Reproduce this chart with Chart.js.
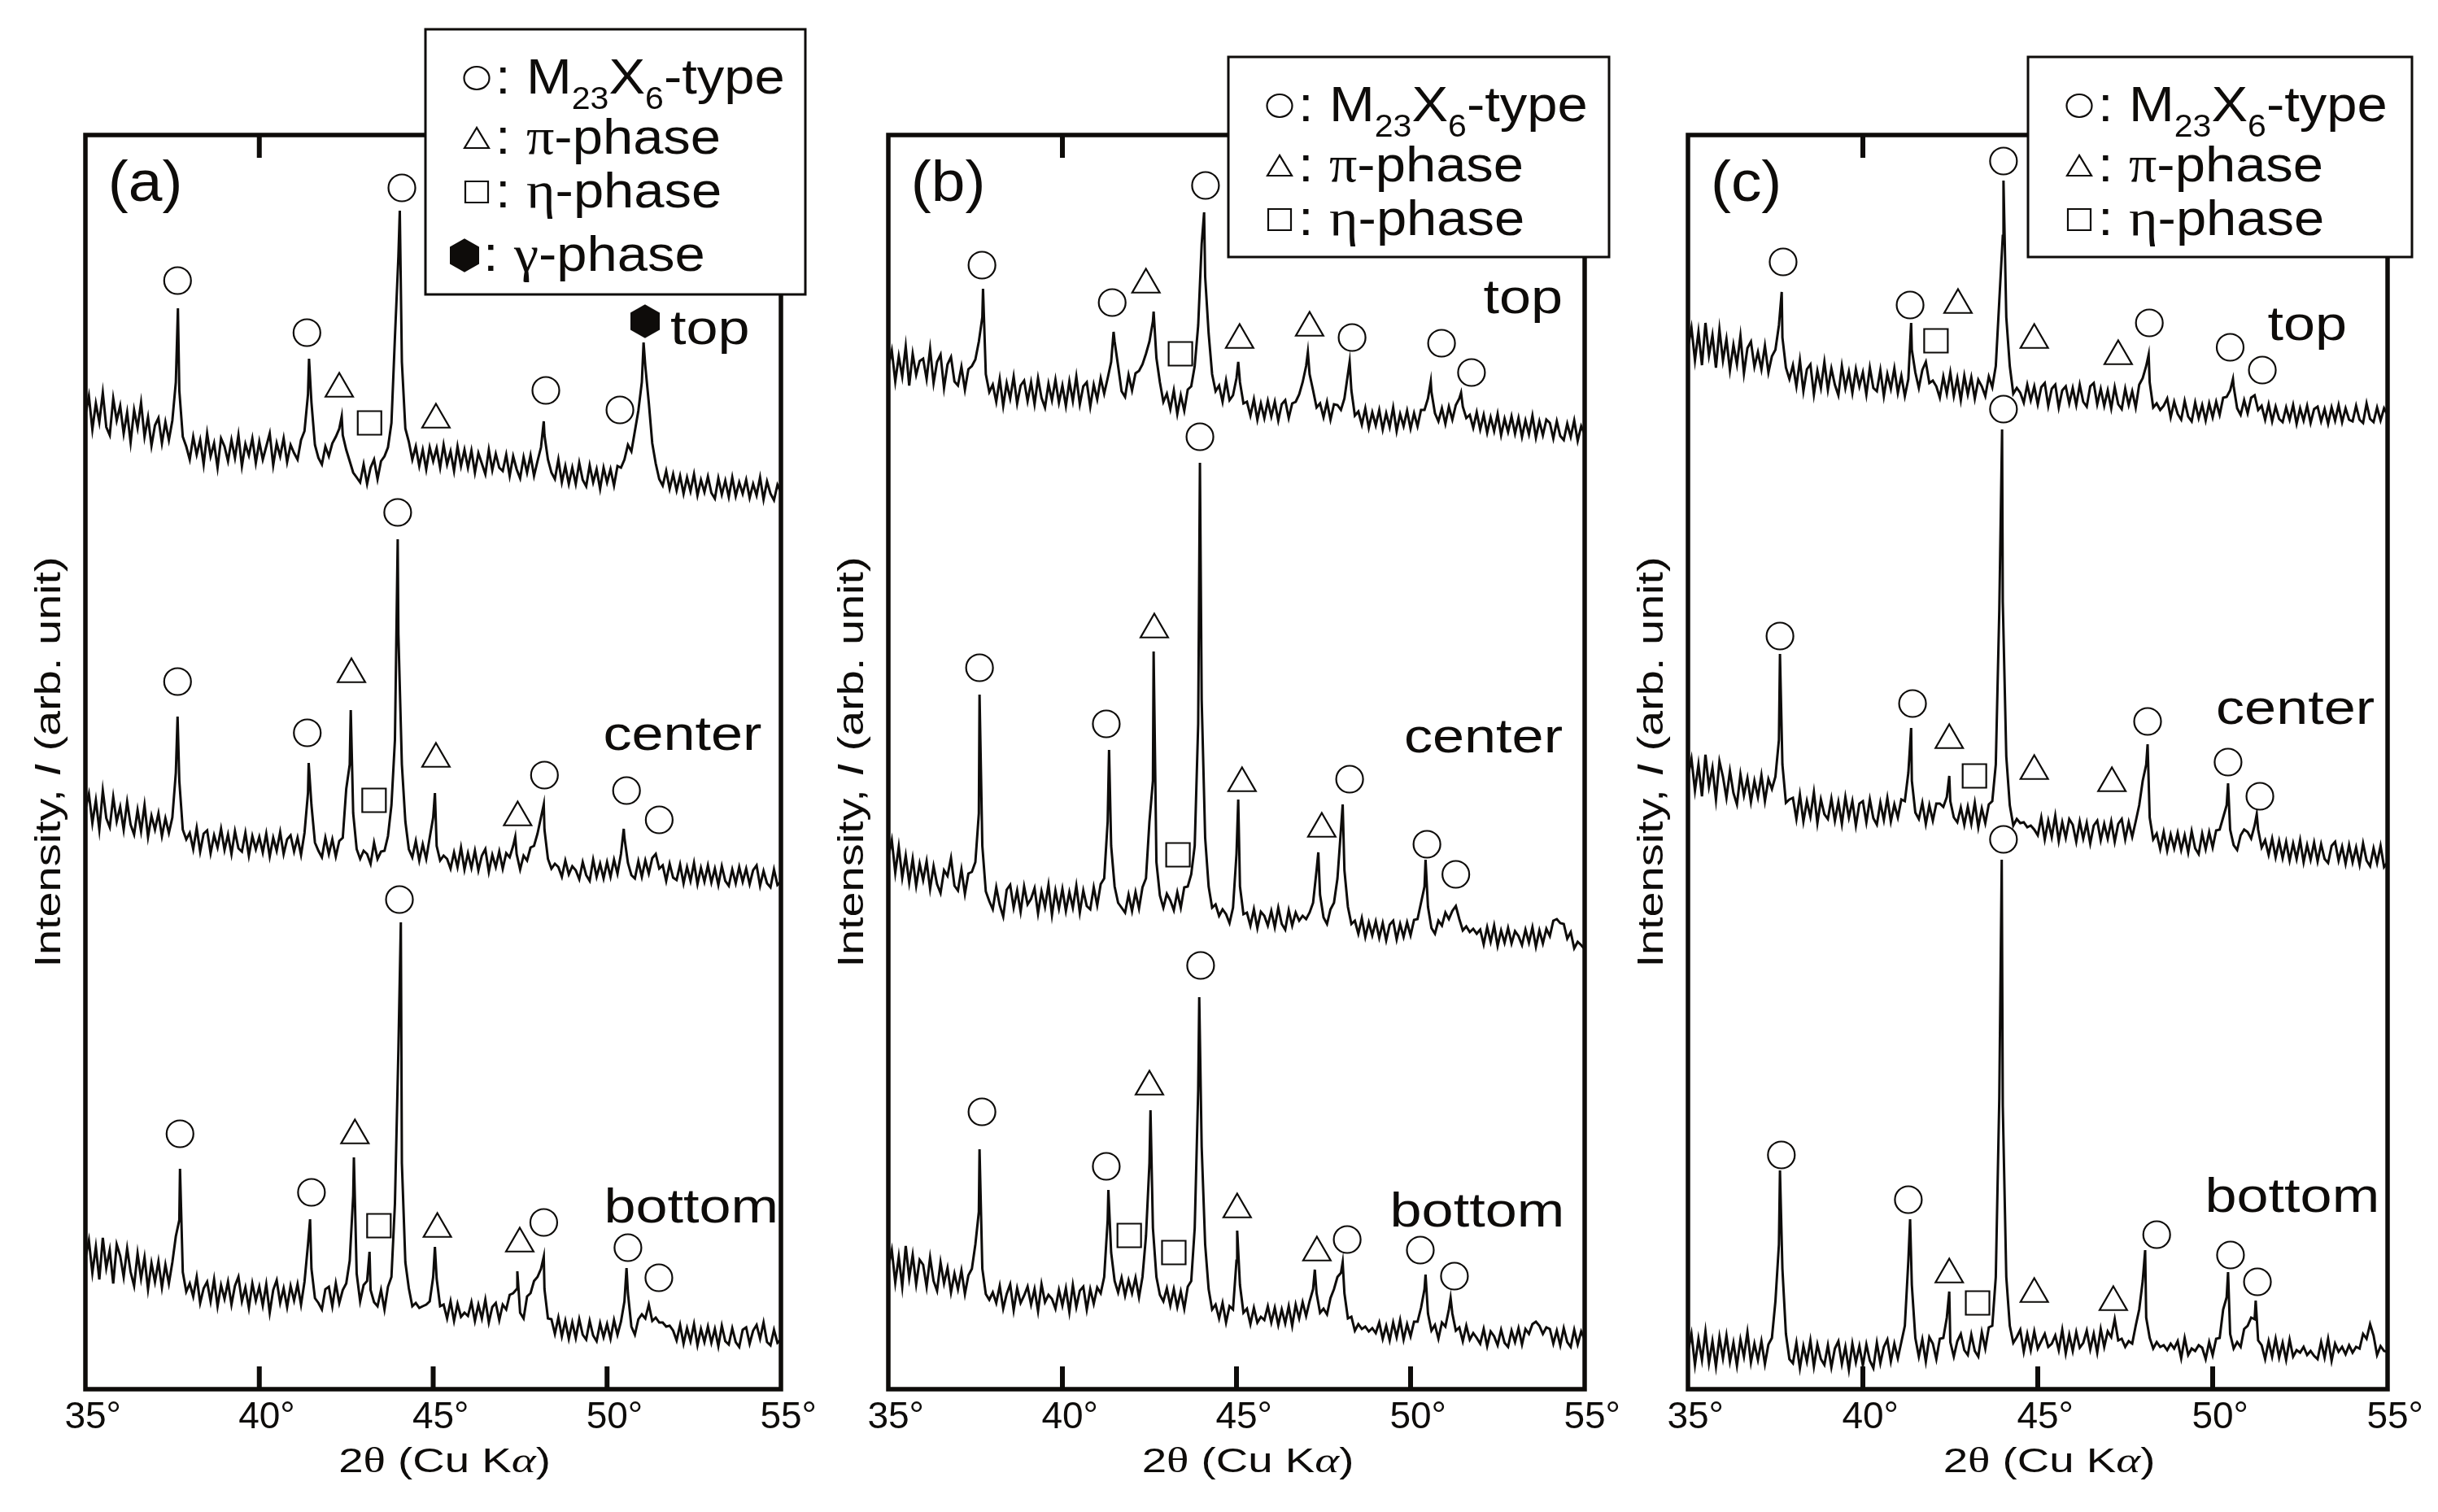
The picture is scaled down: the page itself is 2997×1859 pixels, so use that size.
<!DOCTYPE html>
<html>
<head>
<meta charset="UTF-8">
<title>XRD patterns (a)(b)(c)</title>
<script src="https://cdn.jsdelivr.net/npm/chart.js"></script>
<style>
  html, body { margin: 0; padding: 0; background: #fff; }
  body { width: 2997px; height: 1859px; position: relative; overflow: hidden; }
  canvas { position: absolute; top: 0; }
</style>
</head>
<body>
<canvas id="panelA" width="1020" height="1859" style="left:0px"></canvas>
<canvas id="panelB" width="1020" height="1859" style="left:987px"></canvas>
<canvas id="panelC" width="1020" height="1859" style="left:1970px"></canvas>
<script>
// 2-theta grid of the traces: 35.0 .. 55.0 deg, 0.1 deg step (one row per degree)
const gridStart = 35;
const gridStep = 0.1;
const xTicks = [35, 40, 45, 50, 55];
const traceNames = ['top', 'center', 'bottom'];

// ---- panel (a) ----
const aTop = [
  135,158,117,149,126,162,120,110,155,128,
  146,112,138,101,141,119,150,108,132,97,
  122,131,100,126,104,128,175,165,108,96,
  80,108,86,104,74,112,84,100,70,106,
  96,78,104,82,110,72,99,85,106,76,
  102,80,96,112,73,100,84,106,77,98,
  88,80,104,115,160,150,98,82,74,96,
  84,100,108,118,110,92,78,64,58,52,
  74,50,70,80,56,78,84,95,125,230,
  330,200,118,102,80,96,72,92,68,95,
  78,94,70,98,74,90,66,96,72,92,
  70,91,64,88,75,62,92,67,87,70,
  66,86,60,84,68,57,83,64,85,60,
  78,95,110,80,64,56,80,52,72,50,
  70,50,76,55,47,73,52,68,44,70,
  52,68,48,72,70,80,98,90,115,140,
  175,195,150,100,75,56,48,66,44,62,
  42,60,38,58,41,62,36,55,40,59,
  39,32,57,37,54,34,58,35,52,38,
  55,33,50,36,58,31,53,38,30,49,
  40];
const aTopPeaks = [[37.66,266],[41.43,204],[42.37,133],[44.04,386],[48.18,127],[51.05,224]];
const aCenter = [
  115,134,98,126,90,138,104,93,130,100,
  118,90,124,96,84,114,88,120,81,107,
  90,110,82,104,86,105,160,150,90,78,
  86,66,92,63,85,89,61,83,68,91,
  65,84,60,88,67,63,86,58,82,66,
  81,62,85,57,80,64,87,60,78,83,
  63,80,59,86,135,120,74,64,56,80,
  60,78,57,76,80,140,170,110,66,54,
  64,60,48,74,54,63,64,82,120,200,
  330,170,100,66,56,76,52,72,54,80,
  105,70,52,58,54,42,62,44,68,41,
  61,43,64,40,58,66,38,59,44,63,
  42,61,56,70,60,41,58,52,68,70,
  85,105,90,54,42,48,44,32,52,35,
  45,40,29,50,34,27,53,32,48,30,
  50,32,53,36,60,80,49,34,30,51,
  32,52,36,55,60,42,46,27,48,31,
  28,47,24,44,27,49,23,43,26,46,
  25,42,22,45,27,21,41,24,44,26,
  42,23,40,46,21,39,24,19,41,22,
  26];
const aCenterPeaks = [[37.65,229],[41.42,172],[42.63,237],[43.98,447],[45.05,135],[47.36,81],[48.18,121],[50.48,91]];
const aBottom = [
  123,145,105,137,97,148,111,133,92,140,
  126,100,135,106,89,129,98,124,85,117,
  94,119,87,115,92,118,150,170,106,82,
  92,76,100,68,86,94,70,97,64,90,
  73,94,66,89,100,70,87,62,92,71,
  88,65,91,56,84,96,68,86,63,89,
  71,91,66,94,140,110,74,68,60,85,
  88,64,92,68,84,92,120,200,104,70,
  90,95,84,69,64,84,60,88,100,190,
  380,240,118,86,64,68,62,64,66,70,
  100,98,64,66,49,70,46,67,51,56,
  52,69,46,66,49,72,44,63,68,47,
  66,60,78,80,85,56,49,76,80,95,
  100,110,85,49,48,30,50,27,46,24,
  44,25,48,29,23,46,28,21,43,26,
  42,24,47,29,45,70,80,39,29,48,
  54,49,66,46,50,44,44,39,40,34,
  22,41,18,37,21,42,16,36,20,39,
  19,36,15,40,21,17,37,20,14,35,
  38,18,34,41,24,44,20,16,35,19,
  23];
const aBottomPeaks = [[37.72,233],[41.46,171],[42.72,247],[43.17,131],[44.07,536],[45.05,137],[47.42,107],[48.18,125],[50.56,111]];
const aOffsets = [1063, 598, 38];
const aCircles = [[37.65,1363],[41.37,1299],[44.1,1477],[48.24,1228],[50.37,1204],
  [37.65,870],[41.38,807],[43.98,1078],[48.2,755],[50.56,736],[51.5,700],
  [37.72,314],[41.5,242],[44.03,602],[48.18,205],[50.6,174],[51.49,137]];
const aTriangles = [[42.3,1230],[45.08,1192],[42.65,879],[45.08,775],[47.43,703],[42.75,312],[45.12,197],[47.49,179]];
const aSquares = [[43.17,1188],[43.3,724],[43.44,201]];
const aHexagons = [[51.09,1313]];

// ---- panel (b) ----
const bTop = [
  109,129,91,122,97,134,86,125,99,116,
  119,94,131,89,115,124,83,112,121,91,
  86,109,81,106,110,118,140,170,100,78,
  87,66,94,61,89,70,97,64,86,92,
  67,90,63,95,71,59,88,68,93,65,
  86,61,91,67,97,63,85,90,60,87,
  69,95,76,95,115,140,110,79,72,99,
  80,101,104,112,125,140,165,120,90,66,
  76,57,80,51,74,55,81,85,110,160,
  260,220,150,100,79,86,66,92,68,74,
  95,90,64,66,49,69,44,64,46,67,
  48,66,43,63,68,46,64,66,75,90,
  110,100,80,59,64,47,66,44,63,62,
  56,70,100,80,49,54,38,58,34,53,
  37,56,32,52,35,59,30,51,36,55,
  33,52,36,56,56,70,78,52,42,58,
  39,60,44,62,70,60,46,50,34,53,
  32,50,28,47,30,51,25,45,29,48,
  27,46,23,43,26,49,22,42,25,44,
  40,21,42,24,19,39,23,43,18,36,
  26];
const bTopPeaks = [[37.72,205],[41.47,152],[42.62,177],[44.07,299],[45.05,115],[47.05,127],[48.25,115],[50.58,91],[51.45,77]];
const bCenter = [
  136,157,117,149,111,138,105,134,101,128,
  108,131,97,125,103,92,120,113,135,101,
  95,121,91,116,118,130,190,150,94,82,
  72,99,77,63,96,102,74,95,69,100,
  78,85,98,67,94,75,102,65,95,73,
  97,70,93,74,101,68,95,76,72,99,
  77,103,110,180,150,100,80,74,68,90,
  70,93,73,99,110,180,230,130,89,74,
  91,83,71,93,74,99,100,115,150,300,
  330,160,100,74,78,64,72,66,55,74,
  140,100,66,68,52,72,49,69,64,52,
  70,50,74,54,47,71,52,68,58,64,
  60,68,80,120,90,62,54,72,80,110,
  170,120,75,54,58,42,61,38,56,40,
  57,37,55,34,53,58,35,54,38,56,
  40,59,60,80,100,75,49,42,58,52,
  68,60,70,76,60,46,51,44,48,42,
  47,29,50,32,52,27,46,31,49,30,
  45,39,28,47,31,50,26,46,30,48,
  39,58,60,55,54,36,44,24,32,28,
  23];
const bCenterPeaks = [[37.62,336],[41.34,268],[42.62,389],[43.95,621],[45.05,207],[47.35,142],[48.05,201],[50.43,133]];
const bBottom = [
  112,133,93,125,88,138,99,127,91,121,
  115,88,124,95,83,118,92,111,81,104,
  85,108,79,102,110,140,180,110,79,72,
  81,68,89,61,79,91,59,86,68,77,
  88,66,85,58,91,69,78,73,61,84,
  65,86,57,90,63,83,88,60,85,67,
  87,80,100,170,130,95,81,99,77,96,
  80,99,75,100,150,240,160,100,78,70,
  86,65,85,63,82,61,88,95,160,330,
  260,140,85,60,66,49,68,44,64,60,
  120,90,56,61,42,62,44,51,47,64,
  44,62,41,60,43,64,40,66,49,69,
  52,70,85,80,56,61,54,74,85,100,
  105,80,49,51,34,42,36,39,33,37,
  31,44,24,40,22,44,26,47,23,42,
  27,45,45,62,85,55,34,41,24,44,
  39,60,55,34,38,21,40,23,31,25,
  18,36,15,33,27,16,35,19,14,34,
  20,37,17,36,30,42,45,40,30,38,
  36,18,34,16,37,20,14,35,17,33,
  23];
const bBottomPeaks = [[37.62,257],[41.32,207],[42.53,305],[43.93,444],[45.02,157],[47.25,109],[48.05,118],[50.43,103],[51.15,74]];
const bOffsets = [1148, 518, 38];
const bCircles = [[37.69,1382],[41.43,1336],[44.11,1480],[48.32,1293],[50.89,1286],[51.75,1250],
  [37.62,887],[41.26,818],[43.95,1171],[48.25,750],[50.47,670],[51.3,633],
  [37.69,341],[41.26,274],[43.97,521],[48.18,184],[50.28,171],[51.26,139]];
const bTriangles = [[42.4,1358],[45.09,1290],[47.1,1305],[42.64,934],[45.16,745],[47.45,689],[42.5,372],[45.02,221],[47.31,168]];
const bSquares = [[43.39,1273],[43.32,657],[41.92,189],[43.2,168]];

// ---- panel (c) ----
const cTop = [
  113,137,97,132,91,143,103,128,88,135,
  97,123,85,116,92,127,81,112,120,89,
  107,86,115,82,102,110,140,125,88,74,
  91,65,97,59,86,92,55,84,63,95,
  61,87,67,54,90,63,83,57,86,65,
  82,55,88,63,59,85,53,80,62,87,
  57,78,53,74,110,82,63,85,95,69,
  72,65,51,77,56,82,53,75,48,78,
  55,76,50,73,65,53,77,64,90,170,
  250,150,90,56,63,57,45,67,48,65,
  43,64,69,41,62,67,39,60,65,44,
  63,42,67,46,40,65,69,43,62,41,
  60,38,64,43,37,62,42,59,39,67,
  75,90,70,39,44,36,41,50,27,46,
  31,24,47,28,22,45,26,42,23,44,
  27,46,30,51,52,60,65,38,30,48,
  32,51,54,36,41,24,43,22,40,25,
  21,39,24,42,19,38,23,41,20,37,
  40,22,37,19,39,23,42,21,38,24,
  22,41,24,20,44,25,21,39,23,38,
  30];
const cTopPeaks = [[37.68,181],[41.38,143],[44.02,318],[48.17,104],[50.58,74]];
const cCenter = [
  126,147,108,140,101,152,113,136,97,144,
  125,99,132,105,91,128,102,123,94,120,
  100,127,95,122,110,125,170,140,93,97,
  99,73,103,70,95,76,106,68,97,79,
  73,98,71,94,67,100,75,95,65,92,
  95,69,97,74,66,93,72,99,70,91,
  75,97,95,130,120,81,73,93,67,90,
  71,92,92,88,100,95,75,69,87,66,
  88,67,93,63,86,68,91,95,140,330,
  340,150,90,65,73,68,69,63,65,60,
  53,75,48,71,51,77,46,69,50,73,
  66,45,70,49,68,43,65,71,47,67,
  49,70,45,67,73,48,69,51,70,90,
  120,140,75,48,55,36,57,34,54,37,
  56,35,53,32,58,37,30,55,36,57,
  38,59,60,75,90,60,41,35,53,60,
  57,49,65,60,38,47,29,49,26,46,
  25,45,22,43,24,47,20,41,23,44,
  21,42,24,19,40,45,22,39,18,41,
  20,38,17,43,22,15,37,19,40,14,
  20];
const cCenterPeaks = [[37.63,276],[41.38,185],[42.47,126],[43.98,552],[48.14,165],[50.44,117],[51.26,79]];
const cBottom = [
  28,50,12,44,18,53,14,41,10,46,
  20,48,16,39,11,43,22,52,15,38,
  18,41,13,37,45,90,160,130,50,19,
  14,39,8,35,16,42,10,37,19,12,
  36,9,32,41,13,34,6,38,15,35,
  11,37,17,8,39,14,34,43,16,38,
  20,40,60,140,110,45,22,43,16,46,
  38,19,44,45,70,40,22,41,50,30,
  24,49,29,22,52,32,58,60,120,340,
  330,120,60,39,46,55,28,50,30,53,
  32,41,50,34,38,48,30,55,26,49,
  29,52,33,39,54,31,50,27,56,34,
  53,46,68,42,44,34,41,38,60,80,
  115,70,45,32,40,34,36,30,38,32,
  41,20,45,24,32,29,36,33,19,40,
  24,44,45,80,95,50,32,40,34,56,
  60,70,68,42,36,19,41,22,44,21,
  39,18,43,22,30,27,34,24,29,23,
  19,40,21,44,17,38,28,34,25,36,
  27,34,32,50,44,62,48,24,35,29,
  28];
const cBottomPeaks = [[37.63,251],[41.35,191],[42.47,102],[43.97,633],[48.07,153],[50.44,126],[51.23,91]];
const cOffsets = [1168, 628, 18];
const cCircles = [[37.72,1386],[41.35,1333],[44.02,1510],[48.19,1311],[50.5,1281],[51.42,1253],
  [37.63,926],[41.42,843],[44.02,1205],[48.14,821],[50.44,771],[51.35,729],
  [37.67,288],[41.3,233],[44.02,676],[48.4,190],[50.51,165],[51.28,132]];
const cTriangles = [[42.72,1333],[44.9,1290],[47.3,1270],[42.47,798],[44.9,760],[47.12,745],[42.47,141],[44.9,117],[47.16,107]];
const cSquares = [[42.09,1289],[43.19,754],[43.28,106]];

// ---- drawing ----
const INK = '#0e0c0a';
const SANS = '"Liberation Sans", Arial, sans-serif';
const SERIF = '"Liberation Serif", "Times New Roman", serif';

// filled hexagon used as point style for the gamma-phase mark
const hexMark = document.createElement('canvas');
hexMark.width = 36; hexMark.height = 42;
(function () {
  const h = hexMark.getContext('2d');
  h.fillStyle = INK;
  h.beginPath();
  for (let k = 0; k < 6; k++) {
    const ang = Math.PI / 2 + k * Math.PI / 3;
    h.lineTo(18 + 20.8 * Math.cos(ang), 21 + 20.8 * Math.sin(ang));
  }
  h.closePath();
  h.fill();
})();

function trace(vals, peaks, off) {
  const pts = vals.map((v, i) => ({ x: +(gridStart + i * gridStep).toFixed(2), y: off + v }));
  peaks.forEach(p => pts.push({ x: p[0], y: off + p[1] }));
  return pts.sort((p, q) => p.x - q.x);
}

// draws a run of differently styled text pieces, stretched horizontally by sx
function rich(ctx, segs, x, y, sx, align) {
  let w = 0;
  segs.forEach(s => { ctx.font = s[1]; w += ctx.measureText(s[0]).width * sx; });
  let cx = align === 'center' ? x - w / 2 : align === 'right' ? x - w : x;
  segs.forEach(s => {
    ctx.font = s[1];
    const sw = ctx.measureText(s[0]).width;
    ctx.save();
    ctx.translate(cx, y + (s[2] || 0));
    ctx.scale(sx, 1);
    ctx.textAlign = 'left';
    ctx.textBaseline = 'alphabetic';
    ctx.fillText(s[0], 0, 0);
    ctx.restore();
    cx += sw * sx;
  });
}

const LF = '62px ' + SANS, GF = '63px ' + SERIF, SUB = '38px ' + SANS;
const legendItems = [
  { kind: 'circle', segs: [['M', LF], ['23', SUB, 19], ['X', LF], ['6', SUB, 19], ['-type', LF]] },
  { kind: 'triangle', segs: [['\u03c0', GF], ['-phase', LF]] },
  { kind: 'square', segs: [['\u03b7', GF], ['-phase', LF]] },
  { kind: 'hexagon', segs: [['\u03b3', GF], ['-phase', LF]] }
];

function drawSymbol(ctx, kind, cx, cy) {
  ctx.lineWidth = 2.2;
  ctx.beginPath();
  if (kind === 'circle') ctx.ellipse(cx, cy, 15.5, 14, 0, 0, Math.PI * 2);
  else if (kind === 'triangle') { ctx.moveTo(cx, cy - 13); ctx.lineTo(cx - 15, cy + 12); ctx.lineTo(cx + 15, cy + 12); ctx.closePath(); }
  else if (kind === 'square') ctx.rect(cx - 14, cy - 13, 28, 26);
  if (kind === 'hexagon') ctx.drawImage(hexMark, cx - 18, cy - 21);
  else ctx.stroke();
}

function makeDecor(p) {
  return {
    id: 'decor',
    afterDatasetsDraw(chart) {
      const ctx = chart.ctx, a = chart.chartArea, xs = chart.scales.x, ys = chart.scales.y;
      ctx.save();
      ctx.strokeStyle = INK;
      ctx.fillStyle = INK;
      // inward ticks on top and bottom
      ctx.lineWidth = 6;
      ctx.beginPath();
      xTicks.slice(1, -1).forEach(t => {
        const px = xs.getPixelForValue(t);
        ctx.moveTo(px, a.bottom); ctx.lineTo(px, a.bottom - 28);
        ctx.moveTo(px, a.top); ctx.lineTo(px, a.top + 28);
      });
      ctx.stroke();
      ctx.lineWidth = 5.5;
      ctx.strokeRect(a.left, a.top, a.right - a.left, a.bottom - a.top);

      // tick labels, digits centred on the tick
      ctx.font = '46px ' + SANS;
      ctx.textAlign = 'left';
      ctx.textBaseline = 'alphabetic';
      xTicks.forEach(t => {
        const s = String(t), px = xs.getPixelForValue(t);
        ctx.fillText(s + '\u00b0', px - ctx.measureText(s).width / 2, a.bottom + 48);
      });

      // axis titles
      const f43 = '43px ' + SANS;
      rich(ctx, [['2', f43], ['\u03b8', '45px ' + SERIF], [' (Cu K', f43], ['\u03b1', 'italic 45px ' + SERIF], [')', f43]],
        (a.left + a.right) / 2 + 14, a.bottom + 102, 1.27, 'center');
      ctx.save();
      ctx.translate(a.left - 31, (a.top + a.bottom) / 2);
      ctx.rotate(-Math.PI / 2);
      const f44 = '44px ' + SANS;
      rich(ctx, [['Intensity, ', f44], ['I', 'italic 44px ' + SANS], [' (arb. unit)', f44]], 0, 0, 1.27, 'center');
      ctx.restore();

      // panel letter and trace names
      rich(ctx, [[p.letter, '70px ' + SANS]], xs.getPixelForValue(35.65), ys.getPixelForValue(1461), 1.07, 'left');
      p.names.forEach((n, i) => {
        rich(ctx, [[traceNames[i], '60px ' + SANS]], xs.getPixelForValue(n[0]), ys.getPixelForValue(n[1]), 1.17, 'right');
      });

      // legend box over the frame
      const lx = a.left + 418, ly = p.legendTop, lw = a.right + 30 - lx, lh = p.legendHeight;
      ctx.fillStyle = '#fff';
      ctx.fillRect(lx, ly, lw, lh);
      ctx.lineWidth = 3;
      ctx.strokeRect(lx, ly, lw, lh);
      ctx.fillStyle = INK;
      const rowBase = [79, 153, 219, 297];
      legendItems.slice(0, p.legendRows).forEach((item, i) => {
        const by = ly + rowBase[i];
        const sh = item.kind === 'hexagon' ? -15 : 0;
        drawSymbol(ctx, item.kind, lx + 63 + sh, by - 19);
        rich(ctx, [[':', LF]], lx + 86 + sh, by, 1.08, 'left');
        rich(ctx, item.segs, lx + 124 + sh, by, 1.08, 'left');
      });
      ctx.restore();
    }
  };
}

const panels = [
  { id: 'panelA', letter: '(a)', width: 855, traces: [aTop, aCenter, aBottom], peaks: [aTopPeaks, aCenterPeaks, aBottomPeaks],
    offsets: aOffsets, circles: aCircles, triangles: aTriangles, squares: aSquares, hexagons: aHexagons,
    names: [[54.1, 1285], [54.45, 786], [54.93, 205]], legendTop: 36, legendHeight: 326, legendRows: 4 },
  { id: 'panelB', letter: '(b)', width: 856, traces: [bTop, bCenter, bBottom], peaks: [bTopPeaks, bCenterPeaks, bBottomPeaks],
    offsets: bOffsets, circles: bCircles, triangles: bTriangles, squares: bSquares, hexagons: [],
    names: [[54.37, 1323], [54.37, 783], [54.42, 200]], legendTop: 70, legendHeight: 246, legendRows: 3 },
  { id: 'panelC', letter: '(c)', width: 860, traces: [cTop, cCenter, cBottom], peaks: [cTopPeaks, cCenterPeaks, cBottomPeaks],
    offsets: cOffsets, circles: cCircles, triangles: cTriangles, squares: cSquares, hexagons: [],
    names: [[53.84, 1290], [54.63, 818], [54.77, 218]], legendTop: 70, legendHeight: 246, legendRows: 3 }
];

const toXY = arr => arr.map(q => ({ x: q[0], y: q[1] }));
const markSet = (pts, style, r) => ({
  data: toXY(pts), pointStyle: style, pointRadius: r, pointHoverRadius: r,
  pointBackgroundColor: '#fff', pointBorderColor: INK, pointBorderWidth: 2.2,
  showLine: false, order: 0
});

panels.forEach(p => {
  const sets = p.traces.map((vals, i) => ({
    data: trace(vals, p.peaks[i], p.offsets[i]),
    showLine: true, borderColor: INK, borderWidth: 3, pointRadius: 0, pointHoverRadius: 0,
    fill: false, tension: 0, order: 1
  }));
  sets.push(markSet(p.circles, 'circle', 16.5));
  sets.push(markSet(p.triangles, 'triangle', 19.5));
  sets.push(markSet(p.squares, 'rect', 20.5));
  if (p.hexagons.length) sets.push(markSet(p.hexagons, hexMark, 20));

  new Chart(document.getElementById(p.id), {
    type: 'scatter',
    data: { datasets: sets },
    options: {
      responsive: false,
      animation: false,
      devicePixelRatio: 1,
      events: [],
      layout: { padding: { left: 105, top: 166, right: 1020 - 105 - p.width, bottom: 151 } },
      scales: {
        x: { type: 'linear', min: 35, max: 55, display: false },
        y: { type: 'linear', min: 0, max: 1542, display: false }
      },
      plugins: { legend: { display: false }, tooltip: { enabled: false } }
    },
    plugins: [makeDecor(p)]
  });
});
</script>
</body>
</html>
